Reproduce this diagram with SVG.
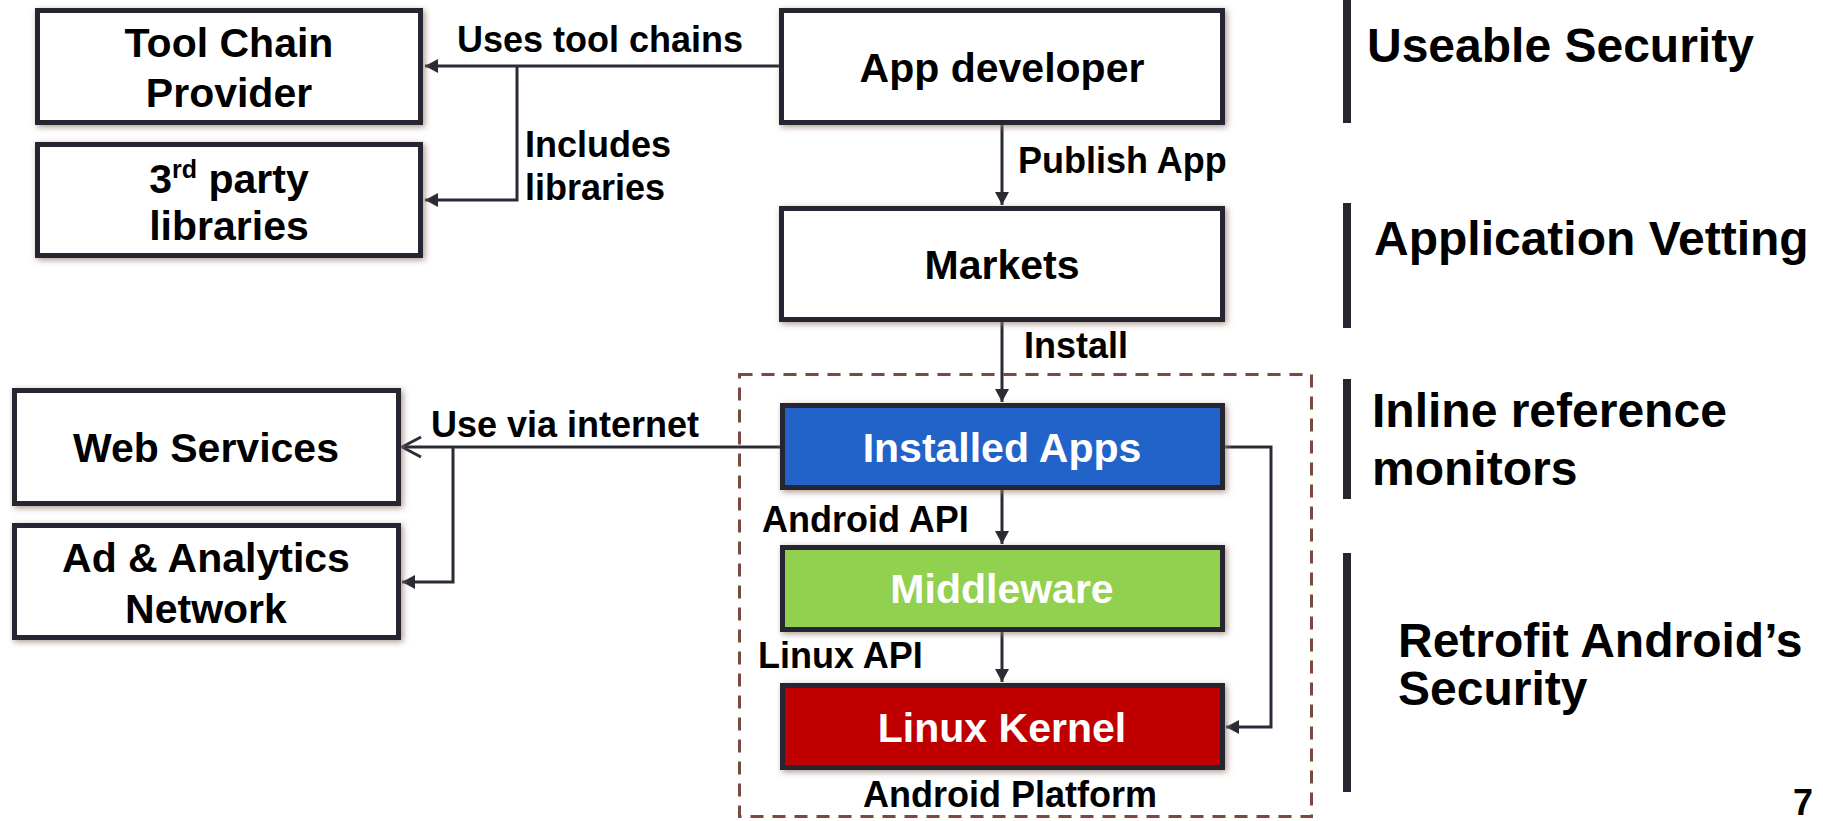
<svg xmlns="http://www.w3.org/2000/svg" width="1823" height="821" viewBox="0 0 1823 821">
<defs>
<style>
.box{fill:#ffffff;stroke:#262630;stroke-width:5;filter:url(#sh)}
.nt{font-family:"Liberation Sans",Arial,sans-serif;font-weight:bold;font-size:41px;fill:#000;text-anchor:middle}
.wt{fill:#ffffff}
.lb{font-family:"Liberation Sans",Arial,sans-serif;font-weight:bold;font-size:36px;fill:#000}
.sec{font-family:"Liberation Sans",Arial,sans-serif;font-weight:bold;font-size:48px;fill:#000}
.ln{fill:none;stroke:#2b2b36;stroke-width:3}
.bar{fill:#262630}
</style>
<filter id="sh" x="-10%" y="-20%" width="120%" height="140%">
<feGaussianBlur in="SourceAlpha" stdDeviation="3"/>
<feOffset dx="2" dy="2" result="b"/>
<feFlood flood-color="#9a8070" flood-opacity="0.8"/>
<feComposite in2="b" operator="in"/>
<feMerge><feMergeNode/><feMergeNode in="SourceGraphic"/></feMerge>
</filter>
<marker id="af" markerUnits="userSpaceOnUse" markerWidth="14" markerHeight="14" refX="13" refY="7" orient="auto">
<path d="M0,0 L13,7 L0,14 z" fill="#2b2b36"/>
</marker>
<marker id="ao" markerUnits="userSpaceOnUse" markerWidth="24" markerHeight="24" refX="21" refY="12" orient="auto">
<path d="M2,2 L21,12 L2,22" fill="none" stroke="#2b2b36" stroke-width="3"/>
</marker>
</defs>
<rect width="1823" height="821" fill="#ffffff"/>

<g id="platform">
<rect x="739.5" y="374.5" width="572" height="442" fill="none" stroke="#7b4a3e" stroke-width="3" stroke-dasharray="13 9"/>
<text class="lb" x="863" y="807">Android Platform</text>
</g>

<g id="connectors">
<path class="ln" d="M779,66 H425" marker-end="url(#af)"/>
<path class="ln" d="M517,66 V200 H425" marker-end="url(#af)"/>
<path class="ln" d="M1002,125 V205" marker-end="url(#af)"/>
<path class="ln" d="M1002,322 V402" marker-end="url(#af)"/>
<path class="ln" d="M780,447 H402" marker-end="url(#ao)"/>
<path class="ln" d="M453,447 V582 H402" marker-end="url(#af)"/>
<path class="ln" d="M1002,490 V544" marker-end="url(#af)"/>
<path class="ln" d="M1002,632 V682" marker-end="url(#af)"/>
<path class="ln" d="M1225,447 H1271 V727 H1226" marker-end="url(#af)"/>
<text class="lb" x="457" y="52">Uses tool chains</text>
<text class="lb" x="525" y="157">Includes</text>
<text class="lb" x="525" y="200">libraries</text>
<text class="lb" x="1018" y="173">Publish App</text>
<text class="lb" x="1024" y="358">Install</text>
<text class="lb" x="431" y="437">Use via internet</text>
<text class="lb" x="762" y="532">Android API</text>
<text class="lb" x="758" y="668">Linux API</text>
</g>

<g id="toolchain">
<rect class="box" x="37.5" y="10.5" width="383" height="112"/>
<text class="nt" x="229" y="57">Tool Chain</text>
<text class="nt" x="229" y="107">Provider</text>
</g>
<g id="libraries">
<rect class="box" x="37.5" y="144.5" width="383" height="111"/>
<text class="nt" x="229" y="193">3<tspan font-size="25px" dy="-15">rd</tspan><tspan dy="15"> party</tspan></text>
<text class="nt" x="229" y="240">libraries</text>
</g>
<g id="appdev">
<rect class="box" x="781.5" y="10.5" width="441" height="112"/>
<text class="nt" x="1002" y="82">App developer</text>
</g>
<g id="markets">
<rect class="box" x="781.5" y="208.5" width="441" height="111"/>
<text class="nt" x="1002" y="279">Markets</text>
</g>
<g id="webservices">
<rect class="box" x="14.5" y="390.5" width="384" height="113"/>
<text class="nt" x="206" y="462">Web Services</text>
</g>
<g id="adnetwork">
<rect class="box" x="14.5" y="525.5" width="384" height="112"/>
<text class="nt" x="206" y="572">Ad &amp; Analytics</text>
<text class="nt" x="206" y="623">Network</text>
</g>
<g id="installedapps">
<rect class="box" x="782.5" y="405.5" width="440" height="82" style="fill:#2463c9"/>
<text class="nt wt" x="1002" y="462">Installed Apps</text>
</g>
<g id="middleware">
<rect class="box" x="782.5" y="547.5" width="440" height="82" style="fill:#92d050"/>
<text class="nt wt" x="1002" y="603">Middleware</text>
</g>
<g id="kernel">
<rect class="box" x="782.5" y="685.5" width="440" height="82" style="fill:#c00000"/>
<text class="nt wt" x="1002" y="742">Linux Kernel</text>
</g>

<g id="sections">
<rect class="bar" x="1343" y="0" width="8" height="123"/>
<rect class="bar" x="1343" y="203" width="8" height="125"/>
<rect class="bar" x="1343" y="379" width="8" height="120"/>
<rect class="bar" x="1343" y="553" width="8" height="239"/>
<text class="sec" x="1367" y="62">Useable Security</text>
<text class="sec" x="1374" y="255">Application Vetting</text>
<text class="sec" x="1372" y="427">Inline reference</text>
<text class="sec" x="1372" y="485">monitors</text>
<text class="sec" x="1398" y="657">Retrofit Android’s</text>
<text class="sec" x="1398" y="705">Security</text>
<text class="sec" x="1793" y="815" style="font-size:36px">7</text>
</g>
</svg>
